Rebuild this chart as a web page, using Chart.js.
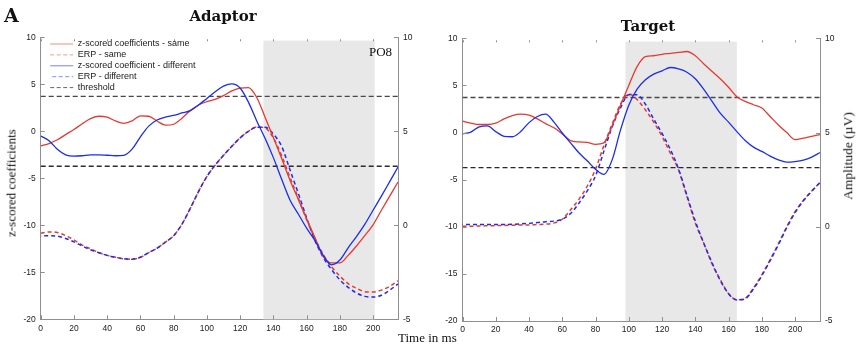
<!DOCTYPE html>
<html>
<head>
<meta charset="utf-8">
<script src="https://cdn.jsdelivr.net/npm/chart.js@4.4.1/dist/chart.umd.min.js"></script>
<style>
  body { margin: 0; background: #fff; }
  #wrap { position: relative; width: 856px; height: 348px; overflow: hidden; }
  canvas { position: absolute; top: 0; }
  .lbl { position: absolute; font-family: "Liberation Serif", serif; color: #111; white-space: nowrap; line-height: 1; }
  .head { font-family: "DejaVu Serif", serif; font-weight: bold; transform: translateX(-50%); }
  .rot { transform: translate(-50%, -50%) rotate(-90deg); }
</style>
</head>
<body>
<div id="wrap">
  <canvas id="adaptor" width="430" height="348" style="left:0"></canvas>
  <canvas id="target" width="426" height="348" style="left:430px"></canvas>
  <div class="lbl" style="left:4px; top:4px; font:bold 19px 'DejaVu Serif', serif">A</div>
  <div class="lbl head" style="left:223px; top:9px; font-size:15px">Adaptor</div>
  <div class="lbl head" style="left:648px; top:19px; font-size:15px">Target</div>
  <div class="lbl" style="left:369px; top:45px; font-size:13px">PO8</div>
  <div class="lbl" style="left:398px; top:331px; font-size:13px">Time in ms</div>
  <div class="lbl rot" style="left:11px; top:183px; font-size:13px">z-scored coefficients</div>
  <div class="lbl rot" style="left:848px; top:156px; font-size:13.5px">Amplitude (µV)</div>
</div>
<script>
// sample times (ms), shared by both panels
const timeMs = [0, 5, 10, 15, 20, 25, 30, 35, 40, 45,
  50, 55, 60, 65, 70, 75, 80, 85, 90, 95,
  100, 105, 110, 115, 120, 125, 130, 135, 140, 145,
  150, 155, 160, 165, 170, 175, 180, 185, 190, 195,
  200, 205, 210, 215];

// adaptor: z-scored coefficients (left axis)
const adaptorZSame = [-1.55, -1.3, -0.9, -0.35, 0.2, 0.8, 1.35, 1.6, 1.5, 1.1,
  0.85, 1.1, 1.65, 1.6, 1.1, 0.65, 0.75, 1.4, 2.2, 2.8,
  3.15, 3.4, 3.8, 4.3, 4.6, 4.65, 3.6, 1.5, -0.65, -2.9,
  -5.2, -7.25, -9.3, -11.3, -13.3, -14.0, -14.0, -13.2, -12.2, -11.1,
  -9.95, -8.4, -6.9, -5.4];
const adaptorZDiff = [-0.5, -1.0, -1.9, -2.5, -2.65, -2.6, -2.5, -2.5, -2.55, -2.6,
  -2.55, -1.9, -0.6, 0.55, 1.2, 1.5, 1.7, 1.95, 2.2, 2.8,
  3.5, 4.2, 4.8, 5.05, 4.6, 3.1, 1.1, -0.75, -2.8, -5.1,
  -7.3, -8.8, -10.3, -11.6, -13.2, -14.2, -13.7, -12.4, -11.2, -9.9,
  -8.4, -6.9, -5.35, -3.8];
// adaptor: ERP amplitude in µV (right axis)
const adaptorErpSame = [-0.42, -0.35, -0.38, -0.55, -0.78, -1.05, -1.25, -1.45, -1.6, -1.7,
  -1.78, -1.8, -1.7, -1.45, -1.22, -0.9, -0.55, 0.06, 0.9, 1.8,
  2.6, 3.2, 3.72, 4.2, 4.65, 5.0, 5.23, 5.18, 4.65, 3.7,
  2.55, 1.45, 0.3, -0.7, -1.55, -2.2, -2.7, -3.1, -3.35, -3.53,
  -3.55, -3.45, -3.25, -2.95];
const adaptorErpDiff = [-0.57, -0.55, -0.58, -0.7, -0.88, -1.1, -1.3, -1.46, -1.6, -1.7,
  -1.78, -1.8, -1.7, -1.45, -1.22, -0.9, -0.55, 0.06, 0.9, 1.8,
  2.6, 3.2, 3.72, 4.2, 4.65, 5.0, 5.22, 5.22, 4.85, 4.2,
  2.95, 1.7, 0.4, -0.8, -1.7, -2.35, -2.9, -3.3, -3.6, -3.78,
  -3.82, -3.72, -3.45, -3.12];

// target: z-scored coefficients (left axis)
const targetZSame = [1.2, 1.0, 0.85, 0.85, 1.0, 1.45, 1.8, 1.95, 1.85, 1.45,
  0.95, 0.5, -0.15, -0.85, -1.0, -1.05, -1.25, -1.1, 0.7, 2.9,
  5.0, 7.0, 8.05, 8.15, 8.3, 8.4, 8.5, 8.6, 8.15, 7.3,
  6.5, 5.7, 4.8, 3.8, 3.3, 2.95, 2.6, 1.7, 0.8, 0.0,
  -0.75, -0.6, -0.4, -0.22];
const targetZDiff = [-0.15, 0.05, 0.6, 0.7, 0.1, -0.4, -0.45, 0.1, 1.05, 1.7,
  1.95, 1.1, -0.05, -1.1, -2.15, -3.0, -3.9, -4.45, -2.9, 0.25,
  2.9, 4.6, 5.6, 6.2, 6.55, 6.9, 6.75, 6.4, 5.7, 4.6,
  3.33, 2.05, 1.1, 0.1, -0.85, -1.55, -2.0, -2.5, -2.9, -3.15,
  -3.08, -2.92, -2.6, -2.12];
// target: ERP amplitude in µV (right axis)
const targetErpSame = [0.02, 0.03, 0.04, 0.05, 0.06, 0.07, 0.08, 0.09, 0.1, 0.12,
  0.14, 0.2, 0.4, 0.9, 1.45, 2.15, 3.05, 4.3, 5.45, 6.5,
  7.05, 6.75, 6.2, 5.55, 4.8, 3.9, 3.0, 1.6, 0.2, -0.85,
  -1.95, -2.8, -3.55, -3.87, -3.8, -3.25, -2.55, -1.75, -0.9, 0.0,
  0.8, 1.4, 1.9, 2.35];
const targetErpDiff = [0.12, 0.12, 0.12, 0.12, 0.12, 0.12, 0.13, 0.15, 0.18, 0.22,
  0.27, 0.3, 0.4, 0.7, 1.25, 1.9, 2.7, 4.0, 5.3, 6.3,
  7.0, 7.0, 6.5, 5.72, 4.95, 4.1, 3.05, 1.65, 0.3, -0.85,
  -1.9, -2.85, -3.55, -3.88, -3.82, -3.3, -2.6, -1.8, -0.95, -0.05,
  0.75, 1.38, 1.88, 2.35];

const thresholdZ = 3.72;
const adaptorWindow = [134, 201];
const targetWindow = [98, 165];
const timeTicks = [0, 20, 40, 60, 80, 100, 120, 140, 160, 180, 200];
const zTicks = [-20, -15, -10, -5, 0, 5, 10];
const ampTicks = [-5, 0, 5, 10];
const legendLabels = ['z-scored coefficients - same', 'ERP - same',
  'z-scored coefficient - different', 'ERP - different', 'threshold'];

const RED = '#e6392f';
const BLUE = '#1c2cf0';
const THR = '#484848';
const AXIS = '#8f8f8f';
const TICK_FONT = { family: '"Liberation Sans", Arial, sans-serif', size: 8.5 };

const pts = vals => vals.map((v, i) => ({ x: timeMs[i], y: v }));
const flat = v => [{ x: timeMs[0], y: v }, { x: timeMs[timeMs.length - 1], y: v }];

// grey analysis window behind the traces
const shadeWindow = {
  id: 'shadeWindow',
  beforeDatasetsDraw(chart, args, opts) {
    const { ctx, chartArea, scales } = chart;
    const x0 = scales.x.getPixelForValue(opts.range[0]);
    const x1 = scales.x.getPixelForValue(opts.range[1]);
    const yTop = scales.y.getPixelForValue(opts.top);
    ctx.save();
    ctx.fillStyle = '#e8e8e8';
    ctx.fillRect(x0, yTop, x1 - x0, chartArea.bottom - yTop);
    ctx.restore();
  }
};

// small tick marks pointing into the plot on all four sides
const innerTicks = {
  id: 'innerTicks',
  afterDatasetsDraw(chart) {
    const { ctx, chartArea: a, scales } = chart;
    ctx.save();
    ctx.strokeStyle = AXIS;
    ctx.lineWidth = 1;
    ctx.beginPath();
    scales.y.ticks.forEach(t => {
      const y = Math.round(scales.y.getPixelForValue(t.value)) + 0.5;
      ctx.moveTo(a.left, y); ctx.lineTo(a.left + 4, y);
    });
    scales.y2.ticks.forEach(t => {
      const y = Math.round(scales.y2.getPixelForValue(t.value)) + 0.5;
      ctx.moveTo(a.right, y); ctx.lineTo(a.right - 4, y);
    });
    scales.x.ticks.forEach(t => {
      const x = Math.round(scales.x.getPixelForValue(t.value)) + 0.5;
      ctx.moveTo(x, a.bottom); ctx.lineTo(x, a.bottom - 4);
      ctx.moveTo(x, a.top + 2); ctx.lineTo(x, a.top + 4);
    });
    ctx.stroke();
    ctx.restore();
  }
};

// legend box in the upper-left corner of the plot, rows in legendRank order
const cornerLegend = {
  id: 'cornerLegend',
  afterDraw(chart, args, opts) {
    if (!opts.show) return;
    const { ctx, chartArea: a } = chart;
    const items = chart.data.datasets.filter(ds => ds.legendColor)
      .sort((p, q) => p.legendRank - q.legendRank);
    ctx.save();
    ctx.font = '9px "Liberation Sans", Arial, sans-serif';
    ctx.textBaseline = 'middle';
    let y = a.top + 6.7;
    items.forEach(ds => {
      ctx.strokeStyle = ds.legendColor;
      ctx.lineWidth = 1;
      ctx.setLineDash(ds.borderDash ? [4, 2.5] : []);
      ctx.beginPath();
      ctx.moveTo(a.left + 9.5 + (ds.legendIndent || 0), y);
      ctx.lineTo(a.left + 32.5, y);
      ctx.stroke();
      ctx.setLineDash([]);
      ctx.fillStyle = '#1a1a1a';
      ctx.fillText(ds.label, a.left + 37, y);
      y += 10.9;
    });
    ctx.restore();
  }
};

function datasets(zSame, zDiff, erpSame, erpDiff) {
  const line = { pointRadius: 0, fill: false, cubicInterpolationMode: 'monotone' };
  return [
    { ...line, label: legendLabels[2], data: pts(zDiff), borderColor: BLUE, borderWidth: 1.3, yAxisID: 'y', legendColor: '#7d7dff', legendRank: 2, order: 1 },
    { ...line, label: legendLabels[0], data: pts(zSame), borderColor: RED, borderWidth: 1.3, yAxisID: 'y', legendColor: '#f28a84', legendRank: 0, order: 2 },
    { ...line, label: legendLabels[3], data: pts(erpDiff), borderColor: BLUE, borderWidth: 1.5, borderDash: [4, 3], borderDashOffset: 3.5, yAxisID: 'y2', legendColor: '#8a8aff', legendIndent: 2, legendRank: 3, order: 3 },
    { ...line, label: legendLabels[1], data: pts(erpSame), borderColor: RED, borderWidth: 1.5, borderDash: [4, 3], yAxisID: 'y2', legendColor: '#f29a94', legendRank: 1, order: 4 },
    { ...line, label: legendLabels[4], data: flat(thresholdZ), borderColor: THR, borderWidth: 1.4, borderDash: [5, 3], yAxisID: 'y', legendColor: '#666', legendRank: 4, order: 5 },
    { ...line, label: 'threshold (lower)', data: flat(-thresholdZ), borderColor: '#2a2a2a', borderWidth: 1.4, borderDash: [5, 3], yAxisID: 'y', order: 6 }
  ];
}

function axis(ticks, extra) {
  return Object.assign({
    type: 'linear',
    afterBuildTicks: s => { s.ticks = ticks.map(v => ({ value: v })); },
    grid: { display: false, drawTicks: false },
    border: { display: true, color: AXIS, width: 1 },
    ticks: { font: TICK_FONT, color: '#222', padding: 5 }
  }, extra);
}

function makePanel(id, sizes, series, window, showLegend) {
  return new Chart(document.getElementById(id), {
    type: 'line',
    data: { datasets: datasets(...series) },
    plugins: [shadeWindow, innerTicks, cornerLegend],
    options: {
      responsive: false,
      animation: false,
      devicePixelRatio: 1,
      layout: { padding: { top: sizes.top, left: 0, right: 0, bottom: 0 } },
      plugins: {
        legend: { display: false },
        tooltip: { enabled: false },
        shadeWindow: { range: window, top: 9.65 },
        cornerLegend: { show: showLegend }
      },
      scales: {
        x: axis(timeTicks, { min: 0, max: 215, ticks: { font: TICK_FONT, color: '#222', padding: 4, maxRotation: 0 },
          afterFit: s => { s.height = sizes.bottom; } }),
        y: axis(zTicks, { min: -20, max: 10, position: 'left', afterFit: s => { s.width = sizes.left; } }),
        y2: axis(ampTicks, { min: -5, max: 10, position: 'right', afterFit: s => { s.width = sizes.right; } })
      }
    }
  });
}

makePanel('adaptor', { top: 37.3, bottom: 28.7, left: 40.7, right: 32 },
  [adaptorZSame, adaptorZDiff, adaptorErpSame, adaptorErpDiff], adaptorWindow, true);
makePanel('target', { top: 38.3, bottom: 27, left: 32.5, right: 36 },
  [targetZSame, targetZDiff, targetErpSame, targetErpDiff], targetWindow, false);
</script>
</body>
</html>
